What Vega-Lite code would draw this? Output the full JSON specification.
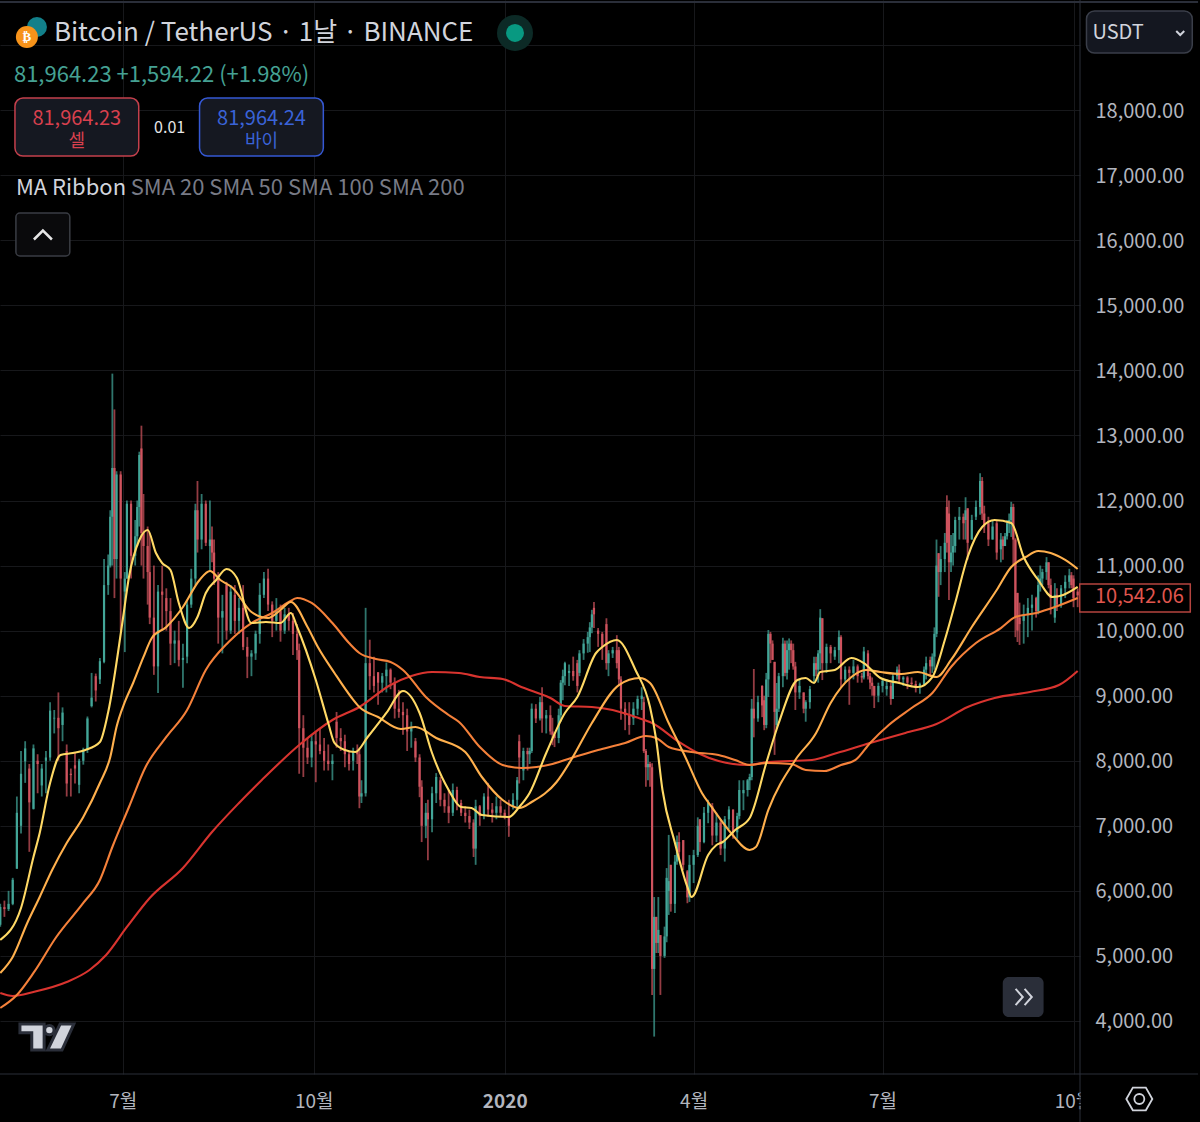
{"$schema":"https://vega.github.io/schema/vega-lite/v6.json","width":1080,"height":1074,"autosize":"none","padding":{"left":0,"top":0,"right":120,"bottom":48},"background":"#000000","config":{"font":"Noto Sans CJK KR","view":{"stroke":null},"text":{"font":"Noto Sans CJK KR"},"axis":{"labelFont":"Noto Sans CJK KR"}},
"datasets":{
"candles":[
{"t":"2019-05-03","o":5480,"h":5800,"l":5450,"c":5750},{"t":"2019-05-05","o":5750,"h":5850,"l":5600,"c":5720},{"t":"2019-05-07","o":5720,"h":6000,"l":5690,"c":5800},{"t":"2019-05-09","o":5800,"h":6200,"l":5780,"c":6170},{"t":"2019-05-11","o":6340,"h":7450,"l":6340,"c":7200},{"t":"2019-05-13","o":7000,"h":8150,"l":6880,"c":7800},{"t":"2019-05-15","o":7990,"h":8300,"l":7660,"c":8190},{"t":"2019-05-17","o":7880,"h":7950,"l":6600,"c":7360},{"t":"2019-05-19","o":7260,"h":8250,"l":7250,"c":8190},{"t":"2019-05-21","o":8000,"h":8100,"l":7500,"c":7950},{"t":"2019-05-23","o":7620,"h":7950,"l":7450,"c":7880},{"t":"2019-05-25","o":8000,"h":8150,"l":7500,"c":8050},{"t":"2019-05-27","o":8050,"h":8900,"l":8000,"c":8770},{"t":"2019-05-29","o":8650,"h":8780,"l":8420,"c":8660},{"t":"2019-05-31","o":8660,"h":9050,"l":8000,"c":8500},{"t":"2019-06-02","o":8550,"h":8820,"l":8300,"c":8740},{"t":"2019-06-04","o":8150,"h":8250,"l":7450,"c":7650},{"t":"2019-06-06","o":7800,"h":7880,"l":7450,"c":7780},{"t":"2019-06-08","o":7930,"h":8130,"l":7650,"c":7880},{"t":"2019-06-10","o":7630,"h":8030,"l":7500,"c":8000},{"t":"2019-06-12","o":8000,"h":8200,"l":7940,"c":8170},{"t":"2019-06-14","o":8170,"h":8680,"l":8120,"c":8650},{"t":"2019-06-16","o":8840,"h":9350,"l":8820,"c":8970},{"t":"2019-06-18","o":9300,"h":9340,"l":8910,"c":9080},{"t":"2019-06-20","o":9250,"h":9580,"l":9180,"c":9530},{"t":"2019-06-22","o":9520,"h":11100,"l":9500,"c":10700},{"t":"2019-06-24","o":10700,"h":11170,"l":10550,"c":11000},{"t":"2019-06-25","o":11000,"h":11850,"l":10970,"c":11750},{"t":"2019-06-26","o":11750,"h":13950,"l":11000,"c":12500},{"t":"2019-06-27","o":12500,"h":13400,"l":10500,"c":11100},{"t":"2019-06-28","o":11100,"h":12450,"l":10800,"c":12400},{"t":"2019-06-30","o":12400,"h":12450,"l":10000,"c":10800},{"t":"2019-07-02","o":10600,"h":10900,"l":9670,"c":10800},{"t":"2019-07-03","o":10800,"h":12000,"l":10800,"c":11950},{"t":"2019-07-05","o":11950,"h":12000,"l":10800,"c":11150},{"t":"2019-07-07","o":11150,"h":11700,"l":11000,"c":11450},{"t":"2019-07-08","o":11450,"h":12000,"l":11300,"c":11900},{"t":"2019-07-09","o":11900,"h":12750,"l":11600,"c":12700},{"t":"2019-07-10","o":12800,"h":13150,"l":11000,"c":11500},{"t":"2019-07-11","o":11500,"h":12100,"l":10800,"c":11300},{"t":"2019-07-13","o":11300,"h":11600,"l":10400,"c":10900},{"t":"2019-07-14","o":10900,"h":11500,"l":10100,"c":10200},{"t":"2019-07-16","o":10200,"h":11000,"l":9320,"c":9450},{"t":"2019-07-18","o":9450,"h":10700,"l":9040,"c":10600},{"t":"2019-07-20","o":10600,"h":11000,"l":10000,"c":10550},{"t":"2019-07-22","o":10500,"h":10650,"l":10000,"c":10300},{"t":"2019-07-24","o":10300,"h":10500,"l":9470,"c":9800},{"t":"2019-07-26","o":9800,"h":10000,"l":9500,"c":9850},{"t":"2019-07-28","o":9850,"h":10150,"l":9450,"c":9550},{"t":"2019-07-30","o":9550,"h":9800,"l":9120,"c":9580},{"t":"2019-08-01","o":9600,"h":10450,"l":9500,"c":10400},{"t":"2019-08-03","o":10400,"h":10950,"l":10350,"c":10800},{"t":"2019-08-05","o":10800,"h":11950,"l":10700,"c":11850},{"t":"2019-08-06","o":11850,"h":12300,"l":11200,"c":11400},{"t":"2019-08-08","o":11400,"h":12100,"l":11250,"c":11950},{"t":"2019-08-10","o":11950,"h":12000,"l":11300,"c":11350},{"t":"2019-08-12","o":11300,"h":12000,"l":10900,"c":11400},{"t":"2019-08-13","o":11400,"h":11600,"l":11050,"c":11200},{"t":"2019-08-14","o":11200,"h":11400,"l":10700,"c":10800},{"t":"2019-08-16","o":10800,"h":10900,"l":9800,"c":10200},{"t":"2019-08-18","o":10200,"h":10550,"l":9650,"c":10300},{"t":"2019-08-20","o":10700,"h":10750,"l":9860,"c":10000},{"t":"2019-08-22","o":10000,"h":10700,"l":9950,"c":10600},{"t":"2019-08-24","o":10550,"h":10700,"l":9950,"c":10150},{"t":"2019-08-26","o":10150,"h":10500,"l":9950,"c":10350},{"t":"2019-08-28","o":10350,"h":10700,"l":9700,"c":9750},{"t":"2019-08-30","o":9750,"h":9900,"l":9270,"c":9600},{"t":"2019-09-01","o":9600,"h":9700,"l":9300,"c":9650},{"t":"2019-09-03","o":9650,"h":10000,"l":9550,"c":9950},{"t":"2019-09-05","o":9950,"h":10730,"l":9800,"c":10550},{"t":"2019-09-07","o":10550,"h":10900,"l":10500,"c":10800},{"t":"2019-09-09","o":10800,"h":10950,"l":10300,"c":10400},{"t":"2019-09-11","o":10400,"h":10450,"l":9900,"c":10150},{"t":"2019-09-13","o":10150,"h":10500,"l":10000,"c":10300},{"t":"2019-09-15","o":10300,"h":10400,"l":9830,"c":10000},{"t":"2019-09-17","o":10000,"h":10350,"l":9950,"c":10250},{"t":"2019-09-19","o":10250,"h":10350,"l":10000,"c":10150},{"t":"2019-09-21","o":10150,"h":10270,"l":9625,"c":9950},{"t":"2019-09-23","o":9950,"h":10100,"l":9550,"c":9700},{"t":"2019-09-24","o":9700,"h":9800,"l":7800,"c":8500},{"t":"2019-09-26","o":8500,"h":8700,"l":7750,"c":8200},{"t":"2019-09-28","o":8200,"h":8350,"l":7950,"c":8050},{"t":"2019-09-30","o":8050,"h":8400,"l":7900,"c":8300},{"t":"2019-10-02","o":8300,"h":8440,"l":7670,"c":8250},{"t":"2019-10-04","o":8250,"h":8500,"l":8100,"c":8150},{"t":"2019-10-06","o":8150,"h":8350,"l":7850,"c":8000},{"t":"2019-10-08","o":8000,"h":8250,"l":7850,"c":7950},{"t":"2019-10-10","o":7950,"h":8100,"l":7700,"c":8000},{"t":"2019-10-12","o":8600,"h":8750,"l":8200,"c":8350},{"t":"2019-10-14","o":8350,"h":8500,"l":8150,"c":8300},{"t":"2019-10-16","o":8300,"h":8400,"l":7900,"c":8100},{"t":"2019-10-18","o":8100,"h":8150,"l":7850,"c":7950},{"t":"2019-10-20","o":8000,"h":8200,"l":7850,"c":8150},{"t":"2019-10-22","o":8150,"h":8250,"l":7950,"c":8100},{"t":"2019-10-23","o":8100,"h":8200,"l":7270,"c":7450},{"t":"2019-10-24","o":7450,"h":7700,"l":7350,"c":7500},{"t":"2019-10-26","o":7500,"h":10350,"l":7450,"c":9500},{"t":"2019-10-28","o":9500,"h":9860,"l":9090,"c":9300},{"t":"2019-10-30","o":9300,"h":9600,"l":9050,"c":9150},{"t":"2019-11-01","o":9360,"h":9360,"l":8860,"c":9200},{"t":"2019-11-03","o":9200,"h":9350,"l":9050,"c":9300},{"t":"2019-11-05","o":9300,"h":9510,"l":9050,"c":9400},{"t":"2019-11-07","o":9400,"h":9420,"l":9100,"c":9200},{"t":"2019-11-09","o":9200,"h":9280,"l":8650,"c":8800},{"t":"2019-11-11","o":8800,"h":9090,"l":8660,"c":8750},{"t":"2019-11-13","o":8750,"h":8900,"l":8400,"c":8700},{"t":"2019-11-15","o":8700,"h":8800,"l":8150,"c":8450},{"t":"2019-11-17","o":8450,"h":8600,"l":8200,"c":8500},{"t":"2019-11-19","o":8300,"h":8350,"l":7980,"c":8050},{"t":"2019-11-21","o":8050,"h":8100,"l":7440,"c":7600},{"t":"2019-11-22","o":7600,"h":7700,"l":6750,"c":7000},{"t":"2019-11-24","o":7000,"h":7350,"l":6810,"c":7200},{"t":"2019-11-25","o":7200,"h":7400,"l":6470,"c":7100},{"t":"2019-11-27","o":7100,"h":7600,"l":6900,"c":7500},{"t":"2019-11-29","o":7500,"h":7810,"l":7350,"c":7750},{"t":"2019-12-01","o":7700,"h":7750,"l":7300,"c":7400},{"t":"2019-12-03","o":7400,"h":7500,"l":7200,"c":7300},{"t":"2019-12-05","o":7300,"h":7550,"l":7040,"c":7200},{"t":"2019-12-07","o":7200,"h":7650,"l":7150,"c":7550},{"t":"2019-12-09","o":7550,"h":7600,"l":7240,"c":7350},{"t":"2019-12-11","o":7350,"h":7400,"l":7150,"c":7200},{"t":"2019-12-13","o":7200,"h":7300,"l":7050,"c":7150},{"t":"2019-12-15","o":7150,"h":7250,"l":6950,"c":7050},{"t":"2019-12-17","o":7050,"h":7100,"l":6520,"c":6650},{"t":"2019-12-18","o":6650,"h":7400,"l":6400,"c":7300},{"t":"2019-12-20","o":7300,"h":7320,"l":7000,"c":7150},{"t":"2019-12-22","o":7150,"h":7500,"l":7100,"c":7450},{"t":"2019-12-24","o":7450,"h":7660,"l":7140,"c":7250},{"t":"2019-12-26","o":7250,"h":7350,"l":7050,"c":7200},{"t":"2019-12-28","o":7200,"h":7450,"l":7100,"c":7300},{"t":"2019-12-30","o":7300,"h":7400,"l":7150,"c":7200},{"t":"2020-01-01","o":7200,"h":7250,"l":7100,"c":7150},{"t":"2020-01-03","o":7135,"h":7400,"l":6830,"c":7000},{"t":"2020-01-05","o":7300,"h":7500,"l":7250,"c":7400},{"t":"2020-01-07","o":7400,"h":7750,"l":7290,"c":7700},{"t":"2020-01-08","o":8300,"h":8400,"l":7650,"c":8050},{"t":"2020-01-10","o":7850,"h":8200,"l":7700,"c":8150},{"t":"2020-01-12","o":8150,"h":8200,"l":7850,"c":8100},{"t":"2020-01-13","o":8100,"h":8200,"l":7950,"c":8150},{"t":"2020-01-14","o":8150,"h":8880,"l":8120,"c":8800},{"t":"2020-01-16","o":8800,"h":8870,"l":8580,"c":8650},{"t":"2020-01-18","o":8650,"h":8980,"l":8620,"c":8900},{"t":"2020-01-19","o":8900,"h":9130,"l":8430,"c":8650},{"t":"2020-01-21","o":8650,"h":8780,"l":8420,"c":8700},{"t":"2020-01-23","o":8700,"h":8850,"l":8400,"c":8450},{"t":"2020-01-24","o":8450,"h":8660,"l":8240,"c":8400},{"t":"2020-01-25","o":8400,"h":8430,"l":8210,"c":8350},{"t":"2020-01-27","o":8350,"h":8800,"l":8270,"c":8700},{"t":"2020-01-28","o":8700,"h":9240,"l":8600,"c":9200},{"t":"2020-01-29","o":9200,"h":9400,"l":8930,"c":9300},{"t":"2020-01-30","o":9300,"h":9520,"l":9160,"c":9500},{"t":"2020-02-01","o":9350,"h":9480,"l":9150,"c":9380},{"t":"2020-02-03","o":9380,"h":9600,"l":9230,"c":9300},{"t":"2020-02-05","o":9500,"h":9550,"l":9050,"c":9150},{"t":"2020-02-06","o":9350,"h":9700,"l":9300,"c":9650},{"t":"2020-02-08","o":9650,"h":9870,"l":9550,"c":9800},{"t":"2020-02-10","o":9800,"h":9980,"l":9660,"c":9900},{"t":"2020-02-11","o":9900,"h":10130,"l":9670,"c":10050},{"t":"2020-02-12","o":10050,"h":10320,"l":9960,"c":10250},{"t":"2020-02-13","o":10350,"h":10440,"l":10040,"c":10250},{"t":"2020-02-15","o":10000,"h":10040,"l":9750,"c":9950},{"t":"2020-02-17","o":9950,"h":9980,"l":9550,"c":9750},{"t":"2020-02-19","o":10100,"h":10190,"l":9400,"c":9500},{"t":"2020-02-20","o":9500,"h":9700,"l":9300,"c":9650},{"t":"2020-02-22","o":9650,"h":9750,"l":9580,"c":9700},{"t":"2020-02-24","o":9700,"h":9930,"l":9420,"c":9500},{"t":"2020-02-25","o":9700,"h":9750,"l":9150,"c":9250},{"t":"2020-02-26","o":9250,"h":9300,"l":8630,"c":8800},{"t":"2020-02-28","o":8800,"h":8900,"l":8470,"c":8700},{"t":"2020-03-01","o":8700,"h":8900,"l":8400,"c":8550},{"t":"2020-03-03","o":8650,"h":8900,"l":8550,"c":8800},{"t":"2020-03-05","o":8800,"h":9000,"l":8700,"c":8950},{"t":"2020-03-07","o":8950,"h":9130,"l":8780,"c":9000},{"t":"2020-03-08","o":8900,"h":8980,"l":8120,"c":8150},{"t":"2020-03-09","o":8150,"h":8180,"l":7600,"c":7900},{"t":"2020-03-10","o":7900,"h":8090,"l":7700,"c":7950},{"t":"2020-03-11","o":7950,"h":7980,"l":7600,"c":7900},{"t":"2020-03-12","o":7900,"h":7960,"l":4400,"c":4800},{"t":"2020-03-13","o":4800,"h":5905,"l":3760,"c":5600},{"t":"2020-03-14","o":5600,"h":5600,"l":5045,"c":5200},{"t":"2020-03-15","o":5200,"h":5905,"l":5045,"c":5400},{"t":"2020-03-16","o":5320,"h":5320,"l":4400,"c":5000},{"t":"2020-03-18","o":5000,"h":5450,"l":4970,"c":5300},{"t":"2020-03-19","o":5300,"h":6350,"l":5210,"c":6200},{"t":"2020-03-20","o":6000,"h":6860,"l":5630,"c":6150},{"t":"2020-03-21","o":6400,"h":6400,"l":5680,"c":5800},{"t":"2020-03-23","o":5800,"h":6550,"l":5660,"c":6450},{"t":"2020-03-24","o":6450,"h":6850,"l":6400,"c":6750},{"t":"2020-03-25","o":6750,"h":6900,"l":6470,"c":6600},{"t":"2020-03-27","o":6780,"h":6780,"l":6320,"c":6400},{"t":"2020-03-29","o":6300,"h":6320,"l":5810,"c":5900},{"t":"2020-03-30","o":5900,"h":6550,"l":5830,"c":6400},{"t":"2020-04-01","o":6400,"h":6630,"l":6120,"c":6550},{"t":"2020-04-03","o":6550,"h":7130,"l":6520,"c":7000},{"t":"2020-04-04","o":7100,"h":7100,"l":6600,"c":6750},{"t":"2020-04-06","o":6750,"h":7290,"l":6730,"c":7200},{"t":"2020-04-08","o":7200,"h":7400,"l":7040,"c":7350},{"t":"2020-04-10","o":7300,"h":7350,"l":6700,"c":6850},{"t":"2020-04-12","o":6850,"h":7200,"l":6750,"c":7050},{"t":"2020-04-14","o":7050,"h":7100,"l":6550,"c":6650},{"t":"2020-04-16","o":6650,"h":7150,"l":6450,"c":7100},{"t":"2020-04-18","o":7100,"h":7300,"l":6950,"c":7250},{"t":"2020-04-20","o":7250,"h":7250,"l":6800,"c":6900},{"t":"2020-04-22","o":6900,"h":7200,"l":6800,"c":7150},{"t":"2020-04-23","o":7150,"h":7700,"l":7100,"c":7550},{"t":"2020-04-25","o":7500,"h":7700,"l":7240,"c":7550},{"t":"2020-04-27","o":7550,"h":7720,"l":7450,"c":7700},{"t":"2020-04-28","o":7700,"h":7800,"l":7550,"c":7750},{"t":"2020-04-29","o":7750,"h":8950,"l":7700,"c":8800},{"t":"2020-04-30","o":8800,"h":9410,"l":8360,"c":8650},{"t":"2020-05-02","o":8650,"h":9000,"l":8600,"c":8900},{"t":"2020-05-04","o":9150,"h":9160,"l":8670,"c":8850},{"t":"2020-05-05","o":8930,"h":9000,"l":8470,"c":8550},{"t":"2020-05-06","o":8550,"h":9350,"l":8500,"c":9250},{"t":"2020-05-07","o":9250,"h":10010,"l":8980,"c":9950},{"t":"2020-05-08","o":9950,"h":9980,"l":9500,"c":9800},{"t":"2020-05-09","o":9800,"h":9850,"l":9550,"c":9550},{"t":"2020-05-10","o":9520,"h":9520,"l":8090,"c":8750},{"t":"2020-05-11","o":8550,"h":9195,"l":8500,"c":8800},{"t":"2020-05-12","o":8800,"h":9350,"l":8750,"c":9300},{"t":"2020-05-14","o":9300,"h":9890,"l":9130,"c":9800},{"t":"2020-05-15","o":9800,"h":9850,"l":9300,"c":9350},{"t":"2020-05-16","o":9350,"h":9850,"l":9250,"c":9700},{"t":"2020-05-17","o":9700,"h":9880,"l":9400,"c":9800},{"t":"2020-05-18","o":9800,"h":9850,"l":9500,"c":9700},{"t":"2020-05-19","o":9700,"h":9800,"l":9400,"c":9450},{"t":"2020-05-20","o":9450,"h":9520,"l":8780,"c":9050},{"t":"2020-05-22","o":9050,"h":9250,"l":8950,"c":9150},{"t":"2020-05-24","o":9050,"h":9050,"l":8730,"c":8800},{"t":"2020-05-25","o":8800,"h":8930,"l":8600,"c":8900},{"t":"2020-05-27","o":8900,"h":9150,"l":8800,"c":9100},{"t":"2020-05-29","o":9300,"h":9600,"l":9200,"c":9500},{"t":"2020-05-30","o":9500,"h":9600,"l":9300,"c":9400},{"t":"2020-05-31","o":9400,"h":9700,"l":9200,"c":9650},{"t":"2020-06-01","o":9650,"h":10330,"l":9400,"c":10200},{"t":"2020-06-02","o":10190,"h":10190,"l":9240,"c":9500},{"t":"2020-06-04","o":9500,"h":9800,"l":9350,"c":9750},{"t":"2020-06-06","o":9750,"h":9780,"l":9500,"c":9650},{"t":"2020-06-08","o":9600,"h":9750,"l":9550,"c":9700},{"t":"2020-06-10","o":9700,"h":10000,"l":9500,"c":9900},{"t":"2020-06-11","o":9900,"h":9930,"l":9130,"c":9250},{"t":"2020-06-13","o":9250,"h":9450,"l":9200,"c":9400},{"t":"2020-06-15","o":9400,"h":9450,"l":8860,"c":9350},{"t":"2020-06-17","o":9350,"h":9550,"l":9250,"c":9450},{"t":"2020-06-19","o":9450,"h":9480,"l":9200,"c":9300},{"t":"2020-06-21","o":9300,"h":9350,"l":9200,"c":9280},{"t":"2020-06-22","o":9280,"h":9750,"l":9250,"c":9680},{"t":"2020-06-24","o":9650,"h":9700,"l":9250,"c":9300},{"t":"2020-06-25","o":9300,"h":9350,"l":9100,"c":9200},{"t":"2020-06-26","o":9200,"h":9280,"l":9000,"c":9150},{"t":"2020-06-27","o":9150,"h":9150,"l":8810,"c":9000},{"t":"2020-06-29","o":9000,"h":9200,"l":8900,"c":9150},{"t":"2020-07-01","o":9150,"h":9250,"l":9050,"c":9230},{"t":"2020-07-03","o":9100,"h":9250,"l":9000,"c":9150},{"t":"2020-07-05","o":9150,"h":9200,"l":8860,"c":8950},{"t":"2020-07-06","o":8950,"h":9350,"l":8950,"c":9300},{"t":"2020-07-08","o":9300,"h":9450,"l":9250,"c":9400},{"t":"2020-07-09","o":9400,"h":9480,"l":9200,"c":9250},{"t":"2020-07-11","o":9250,"h":9300,"l":9150,"c":9280},{"t":"2020-07-13","o":9280,"h":9300,"l":9100,"c":9200},{"t":"2020-07-15","o":9200,"h":9280,"l":9130,"c":9180},{"t":"2020-07-17","o":9180,"h":9230,"l":9050,"c":9150},{"t":"2020-07-19","o":9150,"h":9200,"l":9030,"c":9180},{"t":"2020-07-21","o":9180,"h":9450,"l":9150,"c":9400},{"t":"2020-07-22","o":9400,"h":9600,"l":9250,"c":9500},{"t":"2020-07-24","o":9550,"h":9600,"l":9300,"c":9450},{"t":"2020-07-25","o":9450,"h":9650,"l":9350,"c":9600},{"t":"2020-07-26","o":9600,"h":10050,"l":9400,"c":9950},{"t":"2020-07-27","o":9950,"h":11400,"l":9900,"c":11000},{"t":"2020-07-28","o":11190,"h":11190,"l":10520,"c":10900},{"t":"2020-07-29","o":10900,"h":11300,"l":10700,"c":11100},{"t":"2020-07-31","o":11100,"h":11500,"l":10900,"c":11350},{"t":"2020-08-01","o":11900,"h":12080,"l":11200,"c":11350},{"t":"2020-08-02","o":11800,"h":12000,"l":10470,"c":11050},{"t":"2020-08-03","o":11050,"h":11470,"l":10900,"c":11200},{"t":"2020-08-04","o":11200,"h":11500,"l":11000,"c":11300},{"t":"2020-08-05","o":11300,"h":11750,"l":11200,"c":11700},{"t":"2020-08-07","o":11700,"h":11900,"l":11400,"c":11750},{"t":"2020-08-09","o":11750,"h":11800,"l":11400,"c":11650},{"t":"2020-08-10","o":11700,"h":12050,"l":11400,"c":11850},{"t":"2020-08-11","o":11880,"h":11880,"l":11090,"c":11350},{"t":"2020-08-13","o":11400,"h":11780,"l":11400,"c":11700},{"t":"2020-08-15","o":11750,"h":12000,"l":11700,"c":11900},{"t":"2020-08-17","o":11900,"h":12420,"l":11780,"c":12300},{"t":"2020-08-18","o":12300,"h":12360,"l":11700,"c":11800},{"t":"2020-08-19","o":11800,"h":11920,"l":11500,"c":11600},{"t":"2020-08-21","o":11650,"h":11750,"l":11300,"c":11400},{"t":"2020-08-23","o":11400,"h":11700,"l":11400,"c":11600},{"t":"2020-08-25","o":11650,"h":11700,"l":11090,"c":11200},{"t":"2020-08-27","o":11250,"h":11500,"l":11050,"c":11400},{"t":"2020-08-28","o":11400,"h":11450,"l":11090,"c":11300},{"t":"2020-08-29","o":11300,"h":11500,"l":11300,"c":11450},{"t":"2020-08-30","o":11450,"h":11700,"l":11400,"c":11650},{"t":"2020-08-31","o":11650,"h":11800,"l":11500,"c":11700},{"t":"2020-09-01","o":11700,"h":11980,"l":11440,"c":11900},{"t":"2020-09-02","o":11900,"h":11950,"l":11000,"c":11400},{"t":"2020-09-03","o":11400,"h":11420,"l":9900,"c":10200},{"t":"2020-09-04","o":10580,"h":10580,"l":9825,"c":10000},{"t":"2020-09-05","o":10200,"h":10430,"l":9780,"c":10100},{"t":"2020-09-07","o":10150,"h":10400,"l":9800,"c":10250},{"t":"2020-09-09","o":10250,"h":10500,"l":9900,"c":10350},{"t":"2020-09-11","o":10350,"h":10550,"l":10000,"c":10400},{"t":"2020-09-13","o":10500,"h":10520,"l":10200,"c":10300},{"t":"2020-09-14","o":10300,"h":10850,"l":10250,"c":10700},{"t":"2020-09-15","o":10700,"h":11000,"l":10600,"c":10800},{"t":"2020-09-16","o":10800,"h":10950,"l":10700,"c":10900},{"t":"2020-09-18","o":10900,"h":11130,"l":10780,"c":11050},{"t":"2020-09-19","o":11050,"h":11050,"l":10650,"c":10700},{"t":"2020-09-20","o":10700,"h":10800,"l":10250,"c":10500},{"t":"2020-09-22","o":10200,"h":10730,"l":10120,"c":10550},{"t":"2020-09-23","o":10550,"h":10650,"l":10300,"c":10400},{"t":"2020-09-25","o":10400,"h":10700,"l":10350,"c":10650},{"t":"2020-09-27","o":10650,"h":10850,"l":10500,"c":10750},{"t":"2020-09-29","o":10750,"h":10950,"l":10650,"c":10850},{"t":"2020-09-30","o":10850,"h":10900,"l":10650,"c":10700},{"t":"2020-10-01","o":10800,"h":10850,"l":10360,"c":10500},{"t":"2020-10-03","o":10600,"h":10650,"l":10360,"c":10542}
],
"sma20":[{"t":"2019-05-03","v":5245},{"t":"2019-05-13","v":5737},{"t":"2019-05-19","v":6521},{"t":"2019-05-22","v":6890},{"t":"2019-05-27","v":7658},{"t":"2019-06-01","v":8088},{"t":"2019-06-07","v":8119},{"t":"2019-06-13","v":8165},{"t":"2019-06-20","v":8288},{"t":"2019-06-24","v":8749},{"t":"2019-07-01","v":10163},{"t":"2019-07-04","v":10824},{"t":"2019-07-09","v":11393},{"t":"2019-07-13","v":11547},{"t":"2019-07-17","v":11193},{"t":"2019-07-20","v":11039},{"t":"2019-07-24","v":10932},{"t":"2019-07-28","v":10425},{"t":"2019-08-02","v":10040},{"t":"2019-08-06","v":10209},{"t":"2019-08-10","v":10578},{"t":"2019-08-15","v":10778},{"t":"2019-08-20","v":10947},{"t":"2019-08-25","v":10809},{"t":"2019-09-01","v":10117},{"t":"2019-09-08","v":10133},{"t":"2019-09-15","v":10117},{"t":"2019-09-20","v":10271},{"t":"2019-09-23","v":10056},{"t":"2019-10-02","v":9241},{"t":"2019-10-08","v":8580},{"t":"2019-10-11","v":8273},{"t":"2019-10-16","v":8165},{"t":"2019-10-21","v":8135},{"t":"2019-10-27","v":8365},{"t":"2019-11-05","v":8734},{"t":"2019-11-13","v":9072},{"t":"2019-11-21","v":8734},{"t":"2019-11-27","v":8119},{"t":"2019-12-05","v":7550},{"t":"2019-12-11","v":7289},{"t":"2019-12-16","v":7274},{"t":"2019-12-21","v":7166},{"t":"2020-01-03","v":7135},{"t":"2020-01-08","v":7289},{"t":"2020-01-13","v":7504},{"t":"2020-01-21","v":8119},{"t":"2020-01-30","v":8734},{"t":"2020-02-05","v":8980},{"t":"2020-02-14","v":9656},{"t":"2020-02-17","v":9748},{"t":"2020-02-24","v":9856},{"t":"2020-03-04","v":9395},{"t":"2020-03-11","v":8826},{"t":"2020-03-14","v":8319},{"t":"2020-03-17","v":7550},{"t":"2020-03-23","v":6736},{"t":"2020-03-29","v":6060},{"t":"2020-03-31","v":5906},{"t":"2020-04-08","v":6551},{"t":"2020-04-12","v":6705},{"t":"2020-04-15","v":6751},{"t":"2020-04-21","v":6936},{"t":"2020-04-28","v":7120},{"t":"2020-05-06","v":7965},{"t":"2020-05-12","v":8580},{"t":"2020-05-21","v":9241},{"t":"2020-05-25","v":9272},{"t":"2020-05-29","v":9195},{"t":"2020-06-01","v":9364},{"t":"2020-06-08","v":9395},{"t":"2020-06-16","v":9579},{"t":"2020-06-22","v":9502},{"t":"2020-06-30","v":9272},{"t":"2020-07-09","v":9195},{"t":"2020-07-18","v":9134},{"t":"2020-07-25","v":9287},{"t":"2020-07-31","v":9856},{"t":"2020-08-05","v":10425},{"t":"2020-08-11","v":11132},{"t":"2020-08-18","v":11593},{"t":"2020-08-24","v":11700},{"t":"2020-09-01","v":11654},{"t":"2020-09-07","v":11132},{"t":"2020-09-14","v":10778},{"t":"2020-09-21","v":10517},{"t":"2020-09-26","v":10548},{"t":"2020-10-03","v":10671}],
"sma50":[{"t":"2019-05-03","v":4738},{"t":"2019-05-09","v":4984},{"t":"2019-05-16","v":5506},{"t":"2019-05-22","v":5906},{"t":"2019-05-28","v":6321},{"t":"2019-06-04","v":6736},{"t":"2019-06-12","v":7135},{"t":"2019-06-20","v":7658},{"t":"2019-06-25","v":8058},{"t":"2019-06-28","v":8519},{"t":"2019-07-02","v":8903},{"t":"2019-07-06","v":9195},{"t":"2019-07-11","v":9595},{"t":"2019-07-15","v":9887},{"t":"2019-07-22","v":10056},{"t":"2019-07-30","v":10363},{"t":"2019-08-07","v":10778},{"t":"2019-08-12","v":10917},{"t":"2019-08-17","v":10778},{"t":"2019-08-23","v":10655},{"t":"2019-09-01","v":10286},{"t":"2019-09-09","v":10194},{"t":"2019-09-15","v":10317},{"t":"2019-09-20","v":10440},{"t":"2019-09-28","v":10056},{"t":"2019-10-03","v":9748},{"t":"2019-10-11","v":9349},{"t":"2019-10-19","v":8980},{"t":"2019-10-23","v":8826},{"t":"2019-11-01","v":8672},{"t":"2019-11-12","v":8488},{"t":"2019-11-19","v":8519},{"t":"2019-11-29","v":8350},{"t":"2019-12-13","v":8135},{"t":"2019-12-21","v":7750},{"t":"2019-12-31","v":7397},{"t":"2020-01-08","v":7274},{"t":"2020-01-14","v":7366},{"t":"2020-01-26","v":7673},{"t":"2020-02-02","v":8012},{"t":"2020-02-12","v":8580},{"t":"2020-02-25","v":9164},{"t":"2020-03-06","v":9272},{"t":"2020-03-11","v":9195},{"t":"2020-03-20","v":8580},{"t":"2020-03-28","v":8058},{"t":"2020-04-05","v":7504},{"t":"2020-04-10","v":7274},{"t":"2020-04-19","v":6890},{"t":"2020-04-28","v":6628},{"t":"2020-05-01","v":6674},{"t":"2020-05-07","v":7243},{"t":"2020-05-20","v":8012},{"t":"2020-05-30","v":8427},{"t":"2020-06-06","v":8888},{"t":"2020-06-16","v":9287},{"t":"2020-06-23","v":9395},{"t":"2020-06-30","v":9364},{"t":"2020-07-10","v":9333},{"t":"2020-07-18","v":9364},{"t":"2020-07-27","v":9287},{"t":"2020-08-03","v":9549},{"t":"2020-08-13","v":10056},{"t":"2020-08-25","v":10624},{"t":"2020-09-01","v":10978},{"t":"2020-09-08","v":11132},{"t":"2020-09-14","v":11224},{"t":"2020-09-20","v":11193},{"t":"2020-09-27","v":11086},{"t":"2020-10-03","v":10947}],
"sma100":[{"t":"2019-05-03","v":4200},{"t":"2019-05-11","v":4400},{"t":"2019-05-19","v":4738},{"t":"2019-05-30","v":5291},{"t":"2019-06-12","v":5814},{"t":"2019-06-20","v":6167},{"t":"2019-06-26","v":6674},{"t":"2019-07-04","v":7289},{"t":"2019-07-12","v":7904},{"t":"2019-07-22","v":8365},{"t":"2019-08-01","v":8780},{"t":"2019-08-10","v":9395},{"t":"2019-08-21","v":9825},{"t":"2019-09-01","v":10117},{"t":"2019-09-11","v":10271},{"t":"2019-09-19","v":10440},{"t":"2019-09-23","v":10502},{"t":"2019-09-30","v":10425},{"t":"2019-10-10","v":10117},{"t":"2019-10-18","v":9810},{"t":"2019-10-23","v":9656},{"t":"2019-10-31","v":9564},{"t":"2019-11-07","v":9518},{"t":"2019-11-13","v":9395},{"t":"2019-11-24","v":8980},{"t":"2019-12-05","v":8703},{"t":"2019-12-10","v":8596},{"t":"2019-12-20","v":8211},{"t":"2019-12-31","v":7935},{"t":"2020-01-09","v":7889},{"t":"2020-01-24","v":7950},{"t":"2020-02-02","v":8042},{"t":"2020-02-15","v":8165},{"t":"2020-02-28","v":8273},{"t":"2020-03-09","v":8380},{"t":"2020-03-14","v":8350},{"t":"2020-03-20","v":8211},{"t":"2020-03-31","v":8135},{"t":"2020-04-13","v":8088},{"t":"2020-04-21","v":8012},{"t":"2020-04-28","v":7935},{"t":"2020-05-06","v":7965},{"t":"2020-05-18","v":7950},{"t":"2020-05-25","v":7858},{"t":"2020-06-03","v":7843},{"t":"2020-06-11","v":7935},{"t":"2020-06-18","v":8012},{"t":"2020-06-25","v":8273},{"t":"2020-07-04","v":8550},{"t":"2020-07-15","v":8811},{"t":"2020-07-25","v":9041},{"t":"2020-08-03","v":9441},{"t":"2020-08-15","v":9810},{"t":"2020-08-27","v":10040},{"t":"2020-09-03","v":10209},{"t":"2020-09-13","v":10271},{"t":"2020-09-22","v":10363},{"t":"2020-10-03","v":10502}],
"sma200":[{"t":"2019-05-03","v":4430},{"t":"2019-05-09","v":4384},{"t":"2019-05-19","v":4446},{"t":"2019-06-04","v":4599},{"t":"2019-06-15","v":4784},{"t":"2019-06-23","v":5014},{"t":"2019-07-03","v":5445},{"t":"2019-07-14","v":5891},{"t":"2019-07-30","v":6352},{"t":"2019-08-13","v":6905},{"t":"2019-08-26","v":7351},{"t":"2019-09-06","v":7704},{"t":"2019-09-24","v":8242},{"t":"2019-10-10","v":8626},{"t":"2019-10-23","v":8826},{"t":"2019-11-07","v":9164},{"t":"2019-11-17","v":9303},{"t":"2019-11-27","v":9364},{"t":"2019-12-10","v":9349},{"t":"2019-12-20","v":9287},{"t":"2019-12-31","v":9257},{"t":"2020-01-09","v":9134},{"t":"2020-01-23","v":8965},{"t":"2020-01-30","v":8842},{"t":"2020-02-12","v":8826},{"t":"2020-02-22","v":8780},{"t":"2020-03-04","v":8672},{"t":"2020-03-12","v":8580},{"t":"2020-03-25","v":8288},{"t":"2020-04-03","v":8119},{"t":"2020-04-13","v":7996},{"t":"2020-04-27","v":7935},{"t":"2020-05-07","v":7981},{"t":"2020-05-28","v":8012},{"t":"2020-06-09","v":8119},{"t":"2020-06-25","v":8273},{"t":"2020-07-12","v":8427},{"t":"2020-07-27","v":8565},{"t":"2020-08-11","v":8826},{"t":"2020-08-24","v":8965},{"t":"2020-09-10","v":9057},{"t":"2020-09-24","v":9164},{"t":"2020-10-03","v":9380}]
},
"layer":[
{"data":{"name":"candles"},"mark":{"type":"rule","strokeWidth":1.8,"opacity":0.75},"encoding":{"x":{"field":"t","type":"temporal","scale":{"domain":["2019-05-02T21:00:00","2020-10-04T03:00:00"]},"title":null,"axis":{"values":[{"year":2019,"month":7,"date":1},{"year":2019,"month":10,"date":1},{"year":2020,"month":1,"date":1},{"year":2020,"month":4,"date":1},{"year":2020,"month":7,"date":1},{"year":2020,"month":10,"date":1}],"labelExpr":"month(datum.value)==0?'2020':(month(datum.value)+1)+'월'","labelFontSize":19,"labelColor":"#b2b5be","labelFontWeight":{"condition":{"test":"month(datum.value)==0","value":"bold"},"value":"normal"},"labelPadding":18,"labelOverlap":false,"labelFlush":false,"labelBound":false,"tickSize":0,"domain":false,"grid":true,"gridColor":"#17181b","gridWidth":1}},"y":{"field":"l","type":"quantitative","scale":{"domain":[3185,19693],"nice":false,"zero":false},"title":null,"axis":{"orient":"right","values":[4000,5000,6000,7000,8000,9000,10000,11000,12000,13000,14000,15000,16000,17000,18000,19000],"labelExpr":"datum.value>18000?'':format(datum.value,',.2f')","labelFontSize":20,"labelColor":"#b2b5be","labelPadding":15,"labelOffset":1,"tickSize":0,"domain":false,"grid":true,"gridColor":"#17181b","gridWidth":1}},"y2":{"field":"h"},"color":{"condition":{"test":"datum.c>=datum.o","value":"#3f9e92"},"value":"#c5505a"}}},
{"data":{"name":"candles"},"mark":{"type":"rule","strokeWidth":2.2},"encoding":{"x":{"field":"t","type":"temporal","scale":{"domain":["2019-05-02T21:00:00","2020-10-04T03:00:00"]},"title":null},"y":{"field":"o","type":"quantitative","scale":{"domain":[3185,19693],"nice":false,"zero":false},"title":null},"y2":{"field":"c"},"color":{"condition":{"test":"datum.c>=datum.o","value":"#43a698"},"value":"#cf535e"}}},
{"data":{"name":"sma200"},"mark":{"type":"line","interpolate":"monotone","strokeWidth":2.1,"color":"#d9342f"},"encoding":{"x":{"field":"t","type":"temporal","scale":{"domain":["2019-05-02T21:00:00","2020-10-04T03:00:00"]},"title":null},"y":{"field":"v","type":"quantitative","scale":{"domain":[3185,19693],"nice":false,"zero":false},"title":null}}},
{"data":{"name":"sma100"},"mark":{"type":"line","interpolate":"monotone","strokeWidth":2.1,"color":"#f5813a"},"encoding":{"x":{"field":"t","type":"temporal","scale":{"domain":["2019-05-02T21:00:00","2020-10-04T03:00:00"]},"title":null},"y":{"field":"v","type":"quantitative","scale":{"domain":[3185,19693],"nice":false,"zero":false},"title":null}}},
{"data":{"name":"sma50"},"mark":{"type":"line","interpolate":"monotone","strokeWidth":2.1,"color":"#ffb04d"},"encoding":{"x":{"field":"t","type":"temporal","scale":{"domain":["2019-05-02T21:00:00","2020-10-04T03:00:00"]},"title":null},"y":{"field":"v","type":"quantitative","scale":{"domain":[3185,19693],"nice":false,"zero":false},"title":null}}},
{"data":{"name":"sma20"},"mark":{"type":"line","interpolate":"monotone","strokeWidth":2.1,"color":"#ffd965"},"encoding":{"x":{"field":"t","type":"temporal","scale":{"domain":["2019-05-02T21:00:00","2020-10-04T03:00:00"]},"title":null},"y":{"field":"v","type":"quantitative","scale":{"domain":[3185,19693],"nice":false,"zero":false},"title":null}}},
{"data":{"values":[{}]},"mark":{"type":"rect","fill":"#000000"},"encoding":{"x":{"datum":{"year":2020,"month":10,"date":4,"hours":12},"type":"temporal","scale":{"domain":["2019-05-02T21:00:00","2020-10-04T03:00:00"]},"title":null},"x2":{"datum":{"year":2020,"month":11,"date":30}},"y":{"datum":3170,"type":"quantitative","scale":{"domain":[3185,19693],"nice":false,"zero":false},"title":null},"y2":{"datum":2448}}},
{"data":{"values":[{}]},"mark":{"type":"rule","color":"#2a2e39","strokeWidth":1},"encoding":{"x":{"datum":{"year":2020,"month":10,"date":4,"hours":3},"type":"temporal","scale":{"domain":["2019-05-02T21:00:00","2020-10-04T03:00:00"]},"title":null},"y":{"datum":19693,"type":"quantitative","scale":{"domain":[3185,19693],"nice":false,"zero":false},"title":null},"y2":{"datum":2448}}},
{"data":{"values":[{}]},"mark":{"type":"rule","color":"#2a2e39","strokeWidth":1},"encoding":{"x":{"datum":{"year":2019,"month":5,"date":2,"hours":21},"type":"temporal","scale":{"domain":["2019-05-02T21:00:00","2020-10-04T03:00:00"]},"title":null},"x2":{"datum":{"year":2020,"month":11,"date":30}},"y":{"datum":3185,"type":"quantitative","scale":{"domain":[3185,19693],"nice":false,"zero":false},"title":null}}},
{"data":{"values":[{}]},"mark":{"type":"rule","color":"#2a2e39","strokeWidth":2},"encoding":{"x":{"datum":{"year":2019,"month":5,"date":2,"hours":21},"type":"temporal","scale":{"domain":["2019-05-02T21:00:00","2020-10-04T03:00:00"]},"title":null},"x2":{"datum":{"year":2020,"month":11,"date":30}},"y":{"datum":19662,"type":"quantitative","scale":{"domain":[3185,19693],"nice":false,"zero":false},"title":null}}},
{"data":{"values":[{}]},"mark":{"type":"rect","fill":"#151821","stroke":"#c4404c","strokeWidth":1.5,"cornerRadius":8},"encoding":{"x":{"datum":{"year":2019,"month":5,"date":10,"hours":2},"type":"temporal","scale":{"domain":["2019-05-02T21:00:00","2020-10-04T03:00:00"]},"title":null},"x2":{"datum":{"year":2019,"month":7,"date":8,"hours":17}},"y":{"datum":18186,"type":"quantitative","scale":{"domain":[3185,19693],"nice":false,"zero":false},"title":null},"y2":{"datum":17295}}},
{"data":{"values":[{}]},"mark":{"type":"rect","fill":"#151821","stroke":"#3558d4","strokeWidth":1.5,"cornerRadius":8},"encoding":{"x":{"datum":{"year":2019,"month":8,"date":7},"type":"temporal","scale":{"domain":["2019-05-02T21:00:00","2020-10-04T03:00:00"]},"title":null},"x2":{"datum":{"year":2019,"month":10,"date":5,"hours":15}},"y":{"datum":18186,"type":"quantitative","scale":{"domain":[3185,19693],"nice":false,"zero":false},"title":null},"y2":{"datum":17295}}},
{"data":{"values":[{}]},"mark":{"type":"rect","fill":"#0a0a0c","stroke":"#3a3d44","strokeWidth":1.5,"cornerRadius":4},"encoding":{"x":{"datum":{"year":2019,"month":5,"date":10,"hours":13},"type":"temporal","scale":{"domain":["2019-05-02T21:00:00","2020-10-04T03:00:00"]},"title":null},"x2":{"datum":{"year":2019,"month":6,"date":5,"hours":12}},"y":{"datum":16419,"type":"quantitative","scale":{"domain":[3185,19693],"nice":false,"zero":false},"title":null},"y2":{"datum":15758}}},
{"data":{"values":[{}]},"mark":{"type":"rect","fill":"#141720","stroke":"#3a3e49","strokeWidth":1.5,"cornerRadius":8},"encoding":{"x":{"datum":{"year":2020,"month":10,"date":7,"hours":6},"type":"temporal","scale":{"domain":["2019-05-02T21:00:00","2020-10-04T03:00:00"]},"title":null},"x2":{"datum":{"year":2020,"month":11,"date":27,"hours":5}},"y":{"datum":19524,"type":"quantitative","scale":{"domain":[3185,19693],"nice":false,"zero":false},"title":null},"y2":{"datum":18878}}},
{"data":{"values":[{}]},"mark":{"type":"rect","fill":"#2a2e39","cornerRadius":6},"encoding":{"x":{"datum":{"year":2020,"month":8,"date":27,"hours":22},"type":"temporal","scale":{"domain":["2019-05-02T21:00:00","2020-10-04T03:00:00"]},"title":null},"x2":{"datum":{"year":2020,"month":9,"date":16,"hours":14}},"y":{"datum":4676,"type":"quantitative","scale":{"domain":[3185,19693],"nice":false,"zero":false},"title":null},"y2":{"datum":4061}}},
{"data":{"values":[{}]},"mark":{"type":"rect","fill":"#000000","stroke":"#b5443f","strokeWidth":1.5},"encoding":{"x":{"datum":{"year":2020,"month":10,"date":4},"type":"temporal","scale":{"domain":["2019-05-02T21:00:00","2020-10-04T03:00:00"]},"title":null},"x2":{"datum":{"year":2020,"month":11,"date":26,"hours":6}},"y":{"datum":10717,"type":"quantitative","scale":{"domain":[3185,19693],"nice":false,"zero":false},"title":null},"y2":{"datum":10286}}},
{"data":{"values":[{}]},"mark":{"type":"point","filled":true,"size":400,"color":"#12808a","opacity":1},"encoding":{"x":{"datum":{"year":2019,"month":5,"date":20,"hours":16},"type":"temporal","scale":{"domain":["2019-05-02T21:00:00","2020-10-04T03:00:00"]},"title":null},"y":{"datum":19278,"type":"quantitative","scale":{"domain":[3185,19693],"nice":false,"zero":false},"title":null}}},
{"data":{"values":[{}]},"mark":{"type":"point","filled":true,"size":484,"color":"#f7931a","opacity":1},"encoding":{"x":{"datum":{"year":2019,"month":5,"date":15,"hours":20},"type":"temporal","scale":{"domain":["2019-05-02T21:00:00","2020-10-04T03:00:00"]},"title":null},"y":{"datum":19124,"type":"quantitative","scale":{"domain":[3185,19693],"nice":false,"zero":false},"title":null}}},
{"data":{"values":[{}]},"mark":{"type":"text","text":"₿","fontSize":13,"fontWeight":"bold","color":"#ffffff","align":"center","baseline":"middle"},"encoding":{"x":{"datum":{"year":2019,"month":5,"date":15,"hours":20},"type":"temporal","scale":{"domain":["2019-05-02T21:00:00","2020-10-04T03:00:00"]},"title":null},"y":{"datum":19124,"type":"quantitative","scale":{"domain":[3185,19693],"nice":false,"zero":false},"title":null}}},
{"data":{"values":[{}]},"mark":{"type":"point","filled":true,"size":1296,"color":"#0c2a26","opacity":1},"encoding":{"x":{"datum":{"year":2020,"month":1,"date":5,"hours":23},"type":"temporal","scale":{"domain":["2019-05-02T21:00:00","2020-10-04T03:00:00"]},"title":null},"y":{"datum":19186,"type":"quantitative","scale":{"domain":[3185,19693],"nice":false,"zero":false},"title":null}}},
{"data":{"values":[{}]},"mark":{"type":"point","filled":true,"size":324,"color":"#089981","opacity":1},"encoding":{"x":{"datum":{"year":2020,"month":1,"date":5,"hours":23},"type":"temporal","scale":{"domain":["2019-05-02T21:00:00","2020-10-04T03:00:00"]},"title":null},"y":{"datum":19186,"type":"quantitative","scale":{"domain":[3185,19693],"nice":false,"zero":false},"title":null}}},
{"data":{"values":[{}]},"mark":{"type":"text","text":"Bitcoin / TetherUS · 1날 · BINANCE","fontSize":26,"color":"#d1d4dc","align":"left","baseline":"middle"},"encoding":{"x":{"datum":{"year":2019,"month":5,"date":28,"hours":20},"type":"temporal","scale":{"domain":["2019-05-02T21:00:00","2020-10-04T03:00:00"]},"title":null},"y":{"datum":19186,"type":"quantitative","scale":{"domain":[3185,19693],"nice":false,"zero":false},"title":null}}},
{"data":{"values":[{}]},"mark":{"type":"text","text":"81,964.23  +1,594.22 (+1.98%)","fontSize":22,"color":"#45a193","align":"left","baseline":"middle"},"encoding":{"x":{"datum":{"year":2019,"month":5,"date":9,"hours":14},"type":"temporal","scale":{"domain":["2019-05-02T21:00:00","2020-10-04T03:00:00"]},"title":null},"y":{"datum":18540,"type":"quantitative","scale":{"domain":[3185,19693],"nice":false,"zero":false},"title":null}}},
{"data":{"values":[{}]},"mark":{"type":"text","text":"81,964.23","fontSize":20,"color":"#d8404e","align":"center","baseline":"middle"},"encoding":{"x":{"datum":{"year":2019,"month":6,"date":8,"hours":21},"type":"temporal","scale":{"domain":["2019-05-02T21:00:00","2020-10-04T03:00:00"]},"title":null},"y":{"datum":17864,"type":"quantitative","scale":{"domain":[3185,19693],"nice":false,"zero":false},"title":null}}},
{"data":{"values":[{}]},"mark":{"type":"text","text":"셀","fontSize":18,"color":"#d8404e","align":"center","baseline":"middle"},"encoding":{"x":{"datum":{"year":2019,"month":6,"date":8,"hours":21},"type":"temporal","scale":{"domain":["2019-05-02T21:00:00","2020-10-04T03:00:00"]},"title":null},"y":{"datum":17510,"type":"quantitative","scale":{"domain":[3185,19693],"nice":false,"zero":false},"title":null}}},
{"data":{"values":[{}]},"mark":{"type":"text","text":"0.01","fontSize":16,"color":"#e6e6e6","align":"center","baseline":"middle"},"encoding":{"x":{"datum":{"year":2019,"month":7,"date":23,"hours":14},"type":"temporal","scale":{"domain":["2019-05-02T21:00:00","2020-10-04T03:00:00"]},"title":null},"y":{"datum":17725,"type":"quantitative","scale":{"domain":[3185,19693],"nice":false,"zero":false},"title":null}}},
{"data":{"values":[{}]},"mark":{"type":"text","text":"81,964.24","fontSize":20,"color":"#3a63d8","align":"center","baseline":"middle"},"encoding":{"x":{"datum":{"year":2019,"month":9,"date":5,"hours":20},"type":"temporal","scale":{"domain":["2019-05-02T21:00:00","2020-10-04T03:00:00"]},"title":null},"y":{"datum":17864,"type":"quantitative","scale":{"domain":[3185,19693],"nice":false,"zero":false},"title":null}}},
{"data":{"values":[{}]},"mark":{"type":"text","text":"바이","fontSize":18,"color":"#3a63d8","align":"center","baseline":"middle"},"encoding":{"x":{"datum":{"year":2019,"month":9,"date":5,"hours":20},"type":"temporal","scale":{"domain":["2019-05-02T21:00:00","2020-10-04T03:00:00"]},"title":null},"y":{"datum":17510,"type":"quantitative","scale":{"domain":[3185,19693],"nice":false,"zero":false},"title":null}}},
{"data":{"values":[{}]},"mark":{"type":"text","text":"MA Ribbon","fontSize":22,"color":"#d1d4dc","align":"left","baseline":"middle"},"encoding":{"x":{"datum":{"year":2019,"month":5,"date":10,"hours":13},"type":"temporal","scale":{"domain":["2019-05-02T21:00:00","2020-10-04T03:00:00"]},"title":null},"y":{"datum":16803,"type":"quantitative","scale":{"domain":[3185,19693],"nice":false,"zero":false},"title":null}}},
{"data":{"values":[{}]},"mark":{"type":"text","text":"SMA 20 SMA 50 SMA 100 SMA 200","fontSize":22,"color":"#787b86","align":"left","baseline":"middle"},"encoding":{"x":{"datum":{"year":2019,"month":7,"date":4,"hours":20},"type":"temporal","scale":{"domain":["2019-05-02T21:00:00","2020-10-04T03:00:00"]},"title":null},"y":{"datum":16803,"type":"quantitative","scale":{"domain":[3185,19693],"nice":false,"zero":false},"title":null}}},
{"data":{"values":[{}]},"mark":{"type":"point","shape":"M-0.9 0.45L0 -0.45L0.9 0.45","size":400,"filled":false,"color":"#e6e6e6","strokeWidth":2.5,"opacity":1},"encoding":{"x":{"datum":{"year":2019,"month":5,"date":23,"hours":13},"type":"temporal","scale":{"domain":["2019-05-02T21:00:00","2020-10-04T03:00:00"]},"title":null},"y":{"datum":16081,"type":"quantitative","scale":{"domain":[3185,19693],"nice":false,"zero":false},"title":null}}},
{"data":{"values":[{}]},"mark":{"type":"text","text":"USDT","fontSize":20,"color":"#d1d4dc","align":"left","baseline":"middle"},"encoding":{"x":{"datum":{"year":2020,"month":10,"date":10,"hours":3},"type":"temporal","scale":{"domain":["2019-05-02T21:00:00","2020-10-04T03:00:00"]},"title":null},"y":{"datum":19186,"type":"quantitative","scale":{"domain":[3185,19693],"nice":false,"zero":false},"title":null}}},
{"data":{"values":[{}]},"mark":{"type":"point","shape":"M-0.8 -0.4L0 0.4L0.8 -0.4","size":100,"filled":false,"color":"#d1d4dc","strokeWidth":2,"opacity":1},"encoding":{"x":{"datum":{"year":2020,"month":11,"date":21,"hours":10},"type":"temporal","scale":{"domain":["2019-05-02T21:00:00","2020-10-04T03:00:00"]},"title":null},"y":{"datum":19186,"type":"quantitative","scale":{"domain":[3185,19693],"nice":false,"zero":false},"title":null}}},
{"data":{"values":[{}]},"mark":{"type":"text","text":"10,542.06","fontSize":20,"color":"#e0564e","align":"center","baseline":"middle"},"encoding":{"x":{"datum":{"year":2020,"month":11,"date":1,"hours":17},"type":"temporal","scale":{"domain":["2019-05-02T21:00:00","2020-10-04T03:00:00"]},"title":null},"y":{"datum":10517,"type":"quantitative","scale":{"domain":[3185,19693],"nice":false,"zero":false},"title":null}}},
{"data":{"values":[{}]},"mark":{"type":"point","shape":"M-0.9 -0.9L-0.1 0L-0.9 0.9M0.1 -0.9L0.9 0L0.1 0.9","size":324,"filled":false,"color":"#d1d4dc","strokeWidth":2,"opacity":1},"encoding":{"x":{"datum":{"year":2020,"month":9,"date":7},"type":"temporal","scale":{"domain":["2019-05-02T21:00:00","2020-10-04T03:00:00"]},"title":null},"y":{"datum":4369,"type":"quantitative","scale":{"domain":[3185,19693],"nice":false,"zero":false},"title":null}}},
{"data":{"values":[{}]},"mark":{"type":"point","shape":"M-1 0L-0.5 -0.87L0.5 -0.87L1 0L0.5 0.87L-0.5 0.87Z","size":676,"filled":false,"color":"#d1d4dc","strokeWidth":1.8,"opacity":1},"encoding":{"x":{"datum":{"year":2020,"month":11,"date":1,"hours":17},"type":"temporal","scale":{"domain":["2019-05-02T21:00:00","2020-10-04T03:00:00"]},"title":null},"y":{"datum":2801,"type":"quantitative","scale":{"domain":[3185,19693],"nice":false,"zero":false},"title":null}}},
{"data":{"values":[{}]},"mark":{"type":"point","shape":"circle","size":100,"filled":false,"color":"#d1d4dc","strokeWidth":1.8,"opacity":1},"encoding":{"x":{"datum":{"year":2020,"month":11,"date":1,"hours":17},"type":"temporal","scale":{"domain":["2019-05-02T21:00:00","2020-10-04T03:00:00"]},"title":null},"y":{"datum":2801,"type":"quantitative","scale":{"domain":[3185,19693],"nice":false,"zero":false},"title":null}}},
{"data":{"values":[{}]},"mark":{"type":"point","shape":"M-0.98 -0.47H-0.1V0.47H-0.55V-0.15H-0.98ZM-0.08 -0.25a0.17 0.17 0 1 0 0.34 0a0.17 0.17 0 1 0 -0.34 0ZM0.98 -0.47L0.55 0.47H0.03L0.48 -0.47Z","size":3025,"filled":true,"color":"#d1d4dc","stroke":"#2a2e39","strokeWidth":3,"opacity":1},"encoding":{"x":{"datum":{"year":2019,"month":5,"date":25,"hours":11},"type":"temporal","scale":{"domain":["2019-05-02T21:00:00","2020-10-04T03:00:00"]},"title":null},"y":{"datum":3754,"type":"quantitative","scale":{"domain":[3185,19693],"nice":false,"zero":false},"title":null}}}
]}
